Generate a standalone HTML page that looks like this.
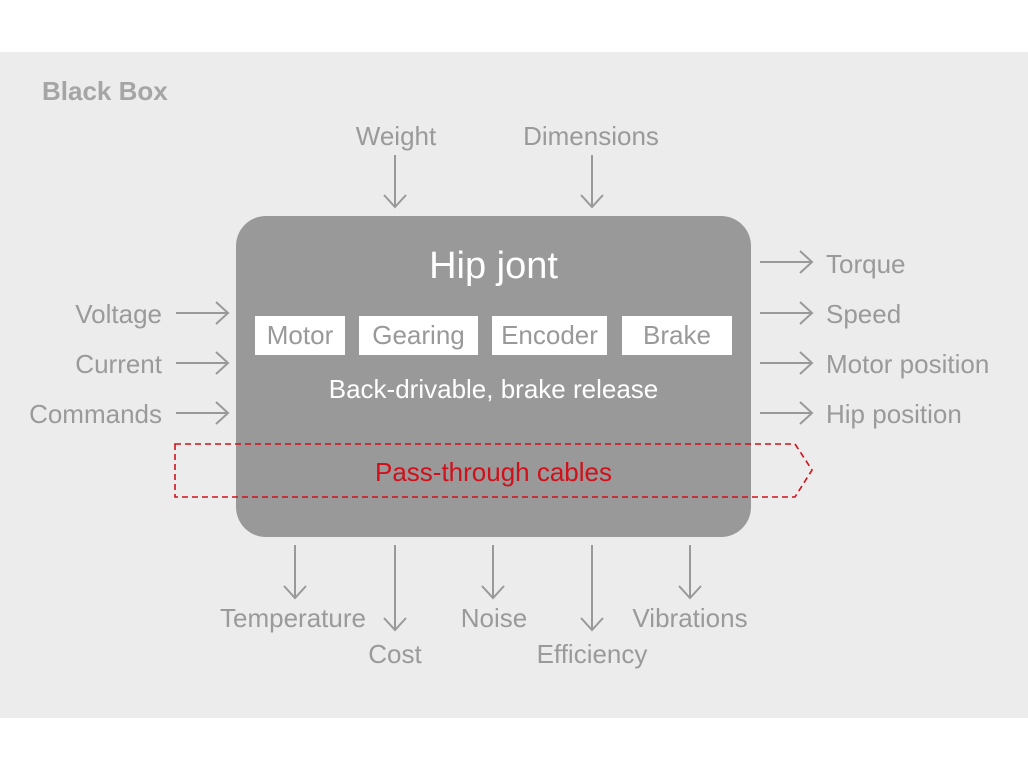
<!DOCTYPE html>
<html><head><style>
body{margin:0;width:1028px;height:771px;background:#fff;position:relative;overflow:hidden;font-family:"Liberation Sans",Arial,sans-serif}
.band{position:absolute;left:0;top:52px;width:1028px;height:666px;background:#ececec}
.t{position:absolute;color:#9a9a9a;font-size:26px;white-space:nowrap;line-height:1}
.r{text-align:right;width:200px}
.m{text-align:center;width:200px}
.box{position:absolute;left:236px;top:216px;width:515px;height:321px;background:#999;border-radius:30px}
.c{position:absolute;top:316px;height:39px;background:#fff;color:#999;font-size:26px;text-align:center;line-height:39px}
</style></head><body>
<div class="band"></div>
<div class="t" style="left:42px;top:78px;font-weight:bold;color:#a5a5a5">Black Box</div>
<div class="box"></div>
<div class="t" style="left:236px;width:515px;text-align:center;top:247px;font-size:38px;color:#fff">Hip jont</div>
<div class="c" style="left:255px;width:90px">Motor</div>
<div class="c" style="left:359px;width:119px">Gearing</div>
<div class="c" style="left:492px;width:115px">Encoder</div>
<div class="c" style="left:622px;width:110px">Brake</div>
<div class="t" style="left:236px;width:515px;text-align:center;top:376px;color:#fff">Back-drivable, brake release</div>
<div class="t" style="left:236px;width:515px;text-align:center;top:459px;color:#d0101a">Pass-through cables</div>
<svg width="1028" height="771" style="position:absolute;left:0;top:0" fill="none" stroke="#999" stroke-width="2">
<path d="M175 444H795L812 470L795 497H175Z" stroke="#d0101a" stroke-width="1.6" stroke-dasharray="6 4"/>
<g>
<path d="M176 313H228M216 302L228 313L216 324"/>
<path d="M176 363H228M216 352L228 363L216 374"/>
<path d="M176 413H228M216 402L228 413L216 424"/>
<path d="M760 262H812M800 251L812 262L800 273"/>
<path d="M760 313H812M800 302L812 313L800 324"/>
<path d="M760 363H812M800 352L812 363L800 374"/>
<path d="M760 413H812M800 402L812 413L800 424"/>
<path d="M395 155V207M384 195L395 207L406 195"/>
<path d="M592 155V207M581 195L592 207L603 195"/>
<path d="M295 545V598M284 586L295 598L306 586"/>
<path d="M395 545V630M384 618L395 630L406 618"/>
<path d="M493 545V598M482 586L493 598L504 586"/>
<path d="M592 545V630M581 618L592 630L603 618"/>
<path d="M690 545V598M679 586L690 598L701 586"/>
</g></svg>
<div class="t m" style="left:296px;top:123px">Weight</div>
<div class="t m" style="left:491px;top:123px">Dimensions</div>
<div class="t r" style="left:-38px;top:301px">Voltage</div>
<div class="t r" style="left:-38px;top:351px">Current</div>
<div class="t r" style="left:-38px;top:401px">Commands</div>
<div class="t" style="left:826px;top:251px">Torque</div>
<div class="t" style="left:826px;top:301px">Speed</div>
<div class="t" style="left:826px;top:351px">Motor position</div>
<div class="t" style="left:826px;top:401px">Hip position</div>
<div class="t m" style="left:193px;top:605px">Temperature</div>
<div class="t m" style="left:295px;top:641px">Cost</div>
<div class="t m" style="left:394px;top:605px">Noise</div>
<div class="t m" style="left:492px;top:641px">Efficiency</div>
<div class="t m" style="left:590px;top:605px">Vibrations</div>
</body></html>
